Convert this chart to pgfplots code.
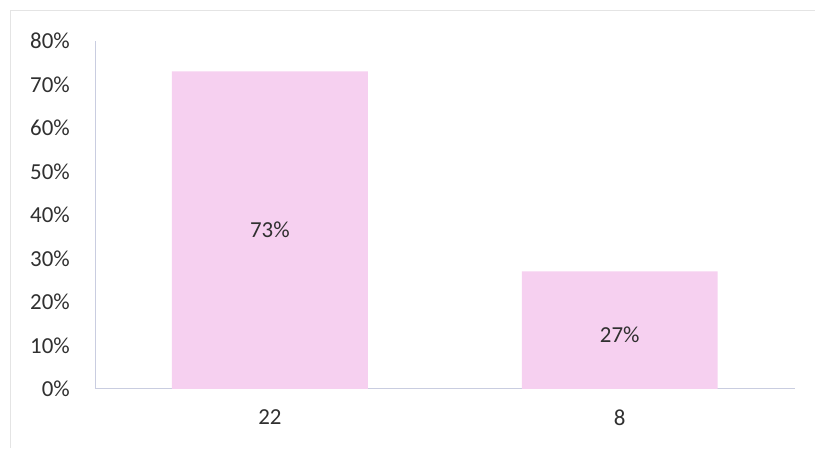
\documentclass[border=0pt]{standalone}
\usepackage{pgfplots}
\pgfplotsset{compat=1.18}
\usepackage{fontspec}
\setmainfont{Carlito}
\definecolor{barpink}{HTML}{F6D0F0}
\definecolor{axisc}{HTML}{C9CDE0}
\definecolor{txt}{HTML}{303030}
\definecolor{framec}{HTML}{E4E4E4}
\begin{document}
\fontsize{23}{28}\selectfont
\begin{tikzpicture}[x=1bp,y=1bp]
\begin{axis}[
  at={(0,0)}, anchor=south west,
  scale only axis, width=700bp, height=348bp,
  xmin=-0.5, xmax=1.5, ymin=0, ymax=80,
  axis x line*=bottom, axis y line*=left,
  axis line style={draw=axisc, line width=0.8pt},
  major tick length=0pt,
  xtick={0,1}, xticklabels={22,8},
  ytick={0,10,...,80},
  yticklabel={\pgfmathprintnumber{\tick}\%},
  /pgf/number format/assume math mode=true,
  ticklabel style={text=txt, font=\fontsize{23}{28}\selectfont},
  yticklabel style={inner sep=0pt, xshift=-25bp},
  xticklabel style={inner sep=0pt, yshift=-21bp},
  clip=false,
]
\addplot[ybar, bar width=0.56, fill=barpink, draw=none] coordinates {(0,73) (1,27)};
\addplot[draw=none, mark=none, point meta=explicit,
  nodes near coords={\pgfmathprintnumber{\pgfplotspointmeta}\%},
  nodes near coords align=center,
  every node near coord/.append style={text=txt, font=\fontsize{23}{28}\selectfont, anchor=center, /pgf/number format/assume math mode=true}]
  coordinates {(0,36.5) [73] (1,12.5) [27]};
\end{axis}
\draw[framec, line width=0.8pt] (-85,-59) -- (-85,379) -- (720,379);
\path[use as bounding box] (-95,-59) rectangle (720,389);
\end{tikzpicture}
\end{document}
